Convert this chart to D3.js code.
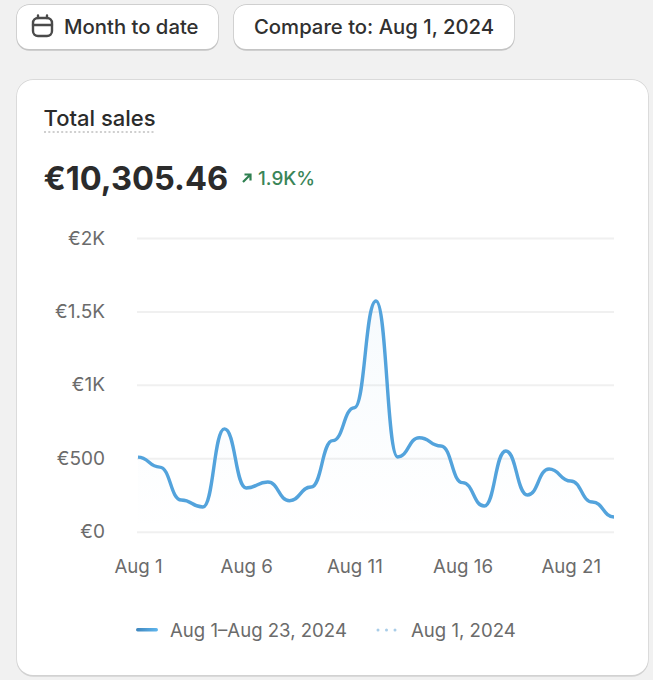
<!DOCTYPE html>
<html><head><meta charset="utf-8">
<style>html,body{margin:0;padding:0;background:#f1f1f1}svg{display:block}text{font-family:Inter,sans-serif}</style>
<script src="https://cdn.jsdelivr.net/npm/d3@7"></script></head><body>
<svg id="c" width="653" height="680"></svg>
<script>
const days = [1,2,3,4,5,6,7,8,9,10,11,12,13,14,15,16,17,18,19,20,21,22,23];
const sales = [508,440,216,168,700,298,338,211,304,620,844,1571,509,640,584,334,175,550,250,427,345,202,100];
const yTicks = [0,500,1000,1500,2000];
const yTickLabels = ["€0","€500","€1K","€1.5K","€2K"];
const xTicks = [1,6,11,16,21];
const xTickLabels = ["Aug 1","Aug 6","Aug 11","Aug 16","Aug 21"];
const title = "Total sales", total = "€10,305.46", change = "1.9K%";
const legendLabels = ["Aug 1–Aug 23, 2024","Aug 1, 2024"];

const svg = d3.select("#c");
const defs = svg.append("defs");
const ag = defs.append("linearGradient").attr("id","area").attr("x1",0).attr("x2",0).attr("y1",0).attr("y2",1);
ag.append("stop").attr("offset","0%").attr("stop-color","#4f9fd8").attr("stop-opacity",0.05);
ag.append("stop").attr("offset","100%").attr("stop-color","#4f9fd8").attr("stop-opacity",0);
const lg = defs.append("linearGradient").attr("id","leg");
lg.append("stop").attr("offset","0%").attr("stop-color","#3f86bd");
lg.append("stop").attr("offset","100%").attr("stop-color","#5fb6ee");

function box(x,y,w,h,r,edge){
  svg.append("rect").attr("x",x-.7).attr("y",y-.7).attr("width",w+1.4).attr("height",h+2.4).attr("rx",r+1).attr("fill",edge);
  svg.append("rect").attr("x",x).attr("y",y).attr("width",w).attr("height",h).attr("rx",r).attr("fill","#fff");
}
box(17,5,201,44,12,"#c4c4c4");
box(234,5,280,44,12,"#c4c4c4");
box(17,80,631,595,16,"#d2d2d2");

const btn = (x,t)=>svg.append("text").attr("x",x).attr("y",34).attr("font-size",20.3).attr("font-weight",500).attr("fill","#303030").text(t);
btn(64,"Month to date");
btn(254,"Compare to: Aug 1, 2024");
const ic = svg.append("g").attr("fill","none").attr("stroke","#4a4a4a").attr("stroke-width",2.4).attr("stroke-linecap","round");
ic.append("rect").attr("x",33).attr("y",18).attr("width",19).attr("height",18).attr("rx",5);
ic.append("path").attr("d","M33 25H52M38 15.5V18M47 15.5V18");

svg.append("text").attr("x",43.5).attr("y",126).attr("font-size",22).attr("font-weight",500).attr("fill","#2b2b2b").text(title);
svg.append("line").attr("x1",44).attr("x2",155).attr("y1",132).attr("y2",132).attr("stroke","#cfcfcf").attr("stroke-width",2).attr("stroke-dasharray","2 2.3");
svg.append("text").attr("x",43.5).attr("y",190).attr("font-size",32.6).attr("font-weight",650).attr("fill","#2b2b2b").text(total);
svg.append("path").attr("d","M243 182L250 175M244.5 174.5H250.5V180.5").attr("fill","none").attr("stroke","#2f8051").attr("stroke-width",2.2);
svg.append("text").attr("x",258).attr("y",185).attr("font-size",18.9).attr("font-weight",550).attr("fill","#3a8558").text(change);

const x = d3.scaleLinear().domain([1,23]).range([138,614]);
const y = d3.scaleLinear().domain([0,2000]).range([531.7,238]);

const yA = svg.append("g").attr("transform","translate(137,0)")
  .call(d3.axisLeft(y).tickValues(yTicks).tickFormat((d,i)=>yTickLabels[i]).tickSize(-477).tickPadding(32));
yA.select(".domain").remove();
yA.selectAll("line").attr("stroke","#f0f0f0").attr("stroke-width",2);
yA.selectAll("text").attr("font-size",19).attr("fill","#6b6b6b").attr("font-family","Inter,sans-serif");

const xA = svg.append("g").attr("transform","translate(0,559)")
  .call(d3.axisBottom(x).tickValues(xTicks).tickFormat((d,i)=>xTickLabels[i]).tickSize(0).tickPadding(0));
xA.select(".domain").remove();
xA.selectAll("text").attr("font-size",18.7).attr("fill","#6b6b6b").attr("font-family","Inter,sans-serif").attr("dy","14");

const curve = d3.curveBumpX;
svg.append("path").datum(sales).attr("fill","url(#area)")
  .attr("d",d3.area().x((d,i)=>x(days[i])).y0(y(0)).y1(d=>y(d)).curve(curve));
svg.append("path").datum(sales).attr("fill","none").attr("stroke","#53a3dc").attr("stroke-width",3.4).attr("stroke-linejoin","round")
  .attr("d",d3.line().x((d,i)=>x(days[i])).y(d=>y(d)).curve(curve));

svg.append("rect").attr("x",136).attr("y",628).attr("width",22).attr("height",3.5).attr("rx",1.7).attr("fill","url(#leg)");
svg.append("text").attr("x",170).attr("y",637).attr("font-size",18.6).attr("fill","#6b6b6b").text(legendLabels[0]);
svg.append("line").attr("x1",378).attr("x2",398).attr("y1",630).attr("y2",630).attr("stroke","#a9cde8").attr("stroke-width",3).attr("stroke-linecap","round").attr("stroke-dasharray","0 8.5");
svg.append("text").attr("x",411).attr("y",637).attr("font-size",18.6).attr("fill","#6b6b6b").text(legendLabels[1]);
</script></body></html>
